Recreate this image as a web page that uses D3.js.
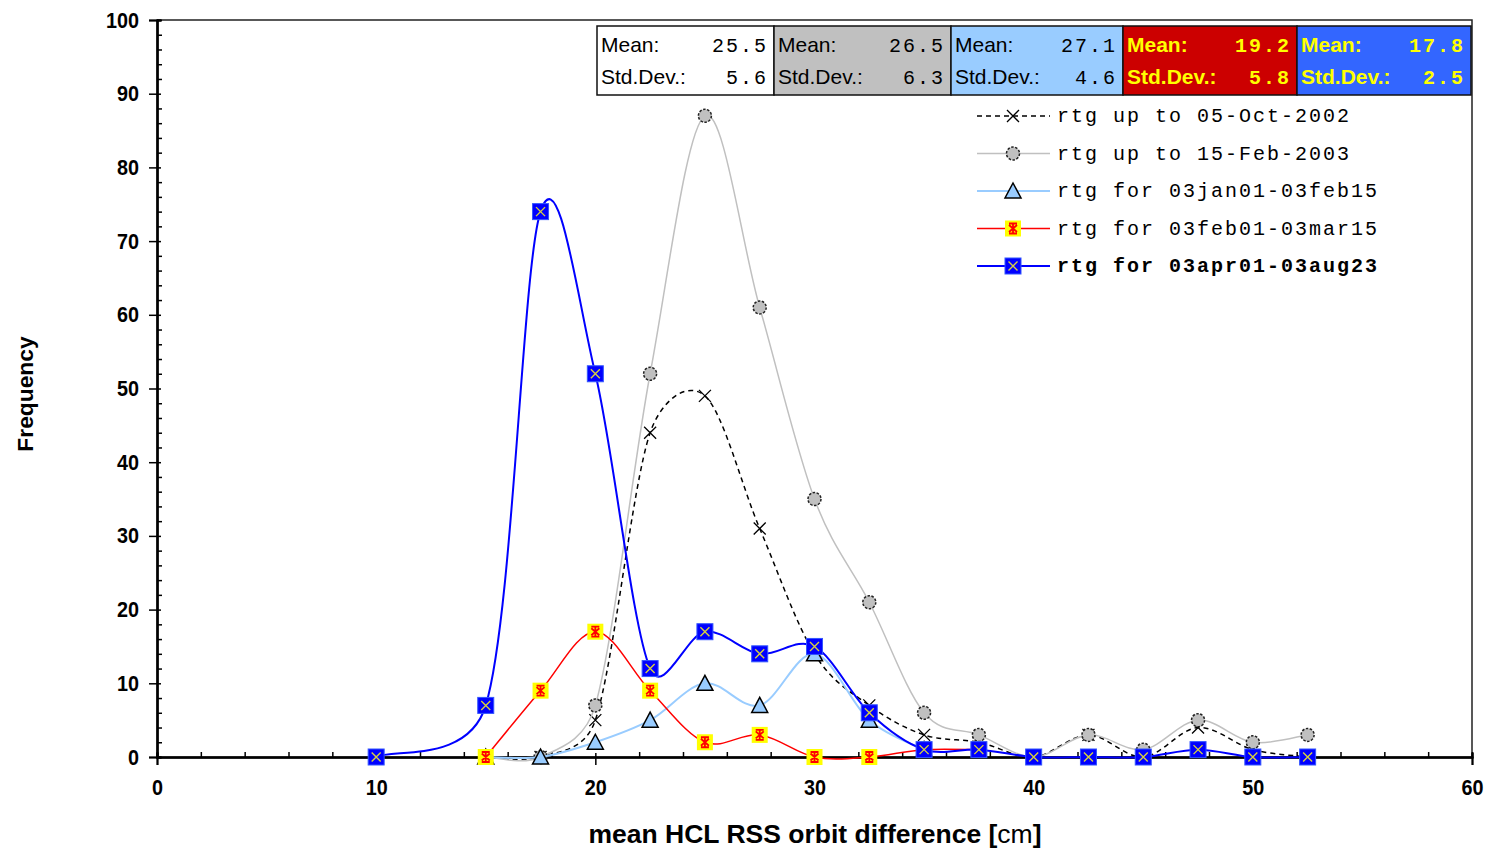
<!DOCTYPE html>
<html><head><meta charset="utf-8">
<script src="https://cdn.jsdelivr.net/npm/d3@7/dist/d3.min.js"></script>
<style>body{margin:0;background:#fff}</style>
</head><body>
<svg id="c" width="1490" height="850"></svg>
<script>
// ---- data ----
const xVals = [10,15,17.5,20,22.5,25,27.5,30,32.5,35,37.5,40,42.5,45,47.5,50,52.5];
const sOct2002 = [null,0,0,5,44,49,31,14,7,3,2,0,3,0,4,1,0];
const sFeb2003 = [null,0,0,7,52,87,61,35,21,6,3,0,3,1,5,2,3];
const sJanFeb  = [null,0,0,2,5,10,7,14,5,1,null,null,null,null,null,null,null];
const sFebMar  = [null,0,9,17,9,2,3,0,0,1,1,null,null,null,null,null,null];
const sAprAug  = [0,7,74,52,12,17,14,15,6,1,1,0,0,0,1,0,0];
const seriesNames = ["rtg up to 05-Oct-2002","rtg up to 15-Feb-2003","rtg for 03jan01-03feb15","rtg for 03feb01-03mar15","rtg for 03apr01-03aug23"];
const statMeans = ["25.5","26.5","27.1","19.2","17.8"];
const statStds  = ["5.6","6.3","4.6","5.8","2.5"];
const xTicks = [0,10,20,30,40,50,60];
const yTicks = [0,10,20,30,40,50,60,70,80,90,100];

// ---- styles ----
const styles = [
  {color:"#000", width:1.5, dash:"5,4", marker:"x"},
  {color:"#c0c0c0", width:1.5, dash:null, marker:"circle"},
  {color:"#99ccff", width:2, dash:null, marker:"triangle"},
  {color:"#ff0000", width:1.5, dash:null, marker:"star"},
  {color:"#0000ff", width:2, dash:null, marker:"bluesq"}
];
const allSeries = [sOct2002,sFeb2003,sJanFeb,sFebMar,sAprAug];

const svg = d3.select("#c");
const L=157, R=1472, T=20, B=757;
const x = d3.scaleLinear().domain([0,60]).range([L,R]);
const y = d3.scaleLinear().domain([0,100]).range([B,T]);

const sansFont = "'Liberation Sans',Arial,sans-serif";

// spreadsheet-style smoothed curve (Bezier, arm = chord/6 limited to half the segment)
function smoothCurve(context){
  let pts = [];
  return {
    areaStart(){}, areaEnd(){},
    lineStart(){ pts = []; },
    point(px,py){ pts.push([+px,+py]); },
    lineEnd(){
      const n = pts.length; if(!n) return;
      context.moveTo(pts[0][0],pts[0][1]);
      const arm = (a,b,seg)=>{
        let t=[(b[0]-a[0])/6,(b[1]-a[1])/6]; const l=Math.hypot(t[0],t[1]);
        if(l>seg/2 && l>0){ const k=seg/2/l; t=[t[0]*k,t[1]*k]; }
        return t;
      };
      for(let i=0;i<n-1;i++){
        const p0=pts[Math.max(i-1,0)], p1=pts[i], p2=pts[i+1], p3=pts[Math.min(i+2,n-1)];
        const seg=Math.hypot(p2[0]-p1[0],p2[1]-p1[1]);
        const t1=arm(p0,p2,seg), t2=arm(p1,p3,seg);
        context.bezierCurveTo(p1[0]+t1[0],p1[1]+t1[1],p2[0]-t2[0],p2[1]-t2[1],p2[0],p2[1]);
      }
    }
  };
}

// frame
svg.append("path").attr("d",`M${L},${T}H${R}V${B}`).attr("fill","none").attr("stroke","#222").attr("stroke-width",1.5);

// y axis
const gy = svg.append("g").attr("transform",`translate(${L},0)`);
gy.call(d3.axisLeft(y).tickValues(yTicks).tickSize(8).tickPadding(10).tickFormat(d3.format("d")));
gy.append("g").call(d3.axisRight(y).tickValues(yTicks).tickSize(4).tickFormat(""));
gy.append("g").call(d3.axisRight(y).tickValues(d3.range(0,101,2).filter(v=>v%10)).tickSize(5).tickFormat(""));
// x axis
const gx = svg.append("g").attr("transform",`translate(0,${B})`);
gx.call(d3.axisBottom(x).tickValues(xTicks).tickSize(8).tickPadding(14).tickFormat(d3.format("d")));
gx.append("g").call(d3.axisTop(x).tickValues(xTicks).tickSize(4).tickFormat(""));
gx.append("g").call(d3.axisTop(x).tickValues(d3.range(0,61,2).filter(v=>v%10)).tickSize(5).tickFormat(""));
svg.selectAll(".domain").attr("stroke","#000").attr("stroke-width",2);
svg.selectAll(".tick line").attr("stroke","#000").attr("stroke-width",1.5);
svg.selectAll(".tick text").attr("font-family",sansFont).attr("font-weight","bold").attr("font-size",22).attr("fill","#000")
  .attr("transform","scale(0.9,1)");
gy.selectAll(".tick text").attr("x",-20);

// axis titles
const xt = svg.append("text").attr("x",815).attr("y",843).attr("text-anchor","middle")
  .attr("font-family",sansFont).attr("font-weight","bold").attr("font-size",26.5).attr("fill","#000");
xt.append("tspan").text("mean HCL RSS orbit difference [");
xt.append("tspan").attr("font-weight","normal").text("cm");
xt.append("tspan").text("]");
svg.append("text").attr("transform","translate(33,394) rotate(-90)").attr("text-anchor","middle")
  .attr("font-family",sansFont).attr("font-weight","bold").attr("font-size",22.8).text("Frequency");

// markers
function marker(g, type){
  if(type==="x"){
    g.append("path").attr("d","M-6,-6L6,6M-6,6L6,-6").attr("stroke","#000").attr("stroke-width",1.3).attr("fill","none");
  } else if(type==="circle"){
    g.append("circle").attr("r",6.5).attr("fill","#c0c0c0").attr("stroke","#222").attr("stroke-width",1.5).attr("stroke-dasharray","2.5,1.5");
  } else if(type==="triangle"){
    g.append("path").attr("d","M0,-8L8,7H-8Z").attr("fill","#99ccff").attr("stroke","#000").attr("stroke-width",1.5);
  } else if(type==="star"){
    g.append("rect").attr("x",-8).attr("y",-8).attr("width",16).attr("height",16).attr("fill","#ffff00");
    g.append("path").attr("d","M0,-5V5M-4,-3.5L4,3.5M-4,3.5L4,-3.5M-4,-5H4M-4,5H4").attr("stroke","#ff0000").attr("stroke-width",1.8).attr("fill","none");
  } else if(type==="bluesq"){
    g.append("rect").attr("x",-8).attr("y",-8).attr("width",16).attr("height",16).attr("fill","#0000ff").attr("stroke","#3355ff").attr("stroke-width",1);
    g.append("path").attr("d","M-4.5,-4.5L4.5,4.5M-4.5,4.5L4.5,-4.5").attr("stroke","#d8d040").attr("stroke-width",1.4).attr("fill","none");
  }
}

const line = d3.line().x(d=>x(d[0])).y(d=>y(d[1])).curve(smoothCurve);
allSeries.forEach((s,i)=>{
  const pts = xVals.map((xv,j)=>[xv,s[j]]).filter(p=>p[1]!==null);
  const st = styles[i];
  svg.append("path").datum(pts).attr("d",line).attr("fill","none").attr("stroke",st.color)
    .attr("stroke-width",st.width).attr("stroke-dasharray",st.dash);
  pts.forEach(p=>{
    const g = svg.append("g").attr("transform",`translate(${x(p[0])},${y(p[1])})`);
    marker(g, st.marker);
  });
});

// stats boxes
const boxFills = ["#ffffff","#c0c0c0","#99ccff","#cc0000","#3366ff"];
const boxText = ["#000","#000","#000","#ffff00","#ffff00"];
const boxX = [597,774,951,1123,1297,1471];
for(let i=0;i<5;i++){
  const bx = boxX[i], bw = boxX[i+1]-boxX[i];
  svg.append("rect").attr("x",bx).attr("y",26).attr("width",bw).attr("height",69).attr("fill",boxFills[i]).attr("stroke","#111").attr("stroke-width",1.5);
  const bold = i>=3 ? "bold":"normal";
  [["Mean:",statMeans[i],52],["Std.Dev.:",statStds[i],84]].forEach(r=>{
    svg.append("text").attr("x",bx+4).attr("y",r[2]).attr("font-family",sansFont)
      .attr("font-size",21).attr("font-weight",bold).attr("fill",boxText[i]).text(r[0]);
    svg.append("text").attr("x",bx+bw-6).attr("y",r[2]).attr("text-anchor","end").attr("font-family","'Liberation Mono','Courier New',monospace")
      .attr("font-size",20).attr("letter-spacing",2).attr("font-weight",bold).attr("fill",boxText[i]).text(r[1]);
  });
}

// legend
seriesNames.forEach((n,i)=>{
  const ly = 116 + i*37.5;
  const st = styles[i];
  svg.append("line").attr("x1",977).attr("x2",1050).attr("y1",ly).attr("y2",ly).attr("stroke",st.color)
    .attr("stroke-width",st.width).attr("stroke-dasharray",st.dash);
  const g = svg.append("g").attr("transform",`translate(1013,${ly})`);
  marker(g, st.marker);
  svg.append("text").attr("x",1057).attr("y",ly+6).attr("font-family","'Liberation Mono','Courier New',monospace")
    .attr("font-size",20).attr("letter-spacing",2).attr("font-weight",i===4?"bold":"normal").attr("fill","#000").text(n);
});
</script>
</body></html>
